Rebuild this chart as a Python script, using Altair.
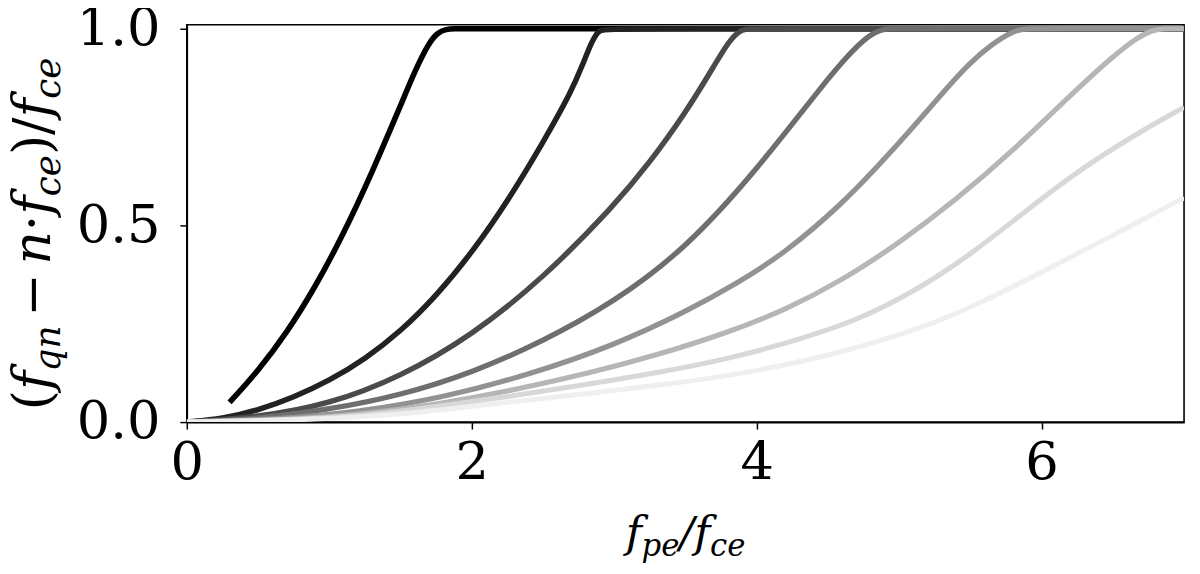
import altair as alt
import pandas as pd

# ---- data (x = f_pe/f_ce, y = (f_qn - n f_ce)/f_ce) ----
names = ["n1", "n2", "n3", "n4", "n5", "n6", "n7", "n8"]
colors = ["#000000", "#222222", "#4a4a4a", "#6e6e6e", "#929292", "#b6b6b6", "#d8d8d8", "#efefef"]
widths = [5.6, 5, 5, 5, 5, 5, 5, 5]

x1 = [0.30, 0.50, 0.70, 0.90, 1.10, 1.30, 1.50, 1.60, 1.70, 1.76, 1.82, 1.88, 1.95, 7.0]
y1 = [0.05, 0.13, 0.226, 0.342, 0.478, 0.634, 0.804, 0.892, 0.965, 0.99, 0.999, 1.0, 1.0, 1.0]

x2 = [0.0, 0.25, 0.5, 0.75, 1.0, 1.25, 1.5, 1.75, 2.0, 2.25, 2.5, 2.7, 2.78, 2.84, 2.89, 2.96, 7.0]
y2 = [0.0, 0.008, 0.03, 0.063, 0.105, 0.16, 0.23, 0.32, 0.43, 0.56, 0.71, 0.84, 0.91, 0.965, 0.998, 1.0, 1.0]

x3 = [0.0, 0.5, 1.0, 1.5, 2.0, 2.5, 3.0, 3.25, 3.5, 3.7, 3.8, 3.87, 3.93, 4.0, 7.0]
y3 = [0.0, 0.012, 0.045, 0.115, 0.22, 0.365, 0.55, 0.66, 0.785, 0.905, 0.965, 0.993, 1.0, 1.0, 1.0]

x4 = [0.0, 0.5, 1.0, 1.5, 2.0, 2.5, 3.0, 3.5, 4.0, 4.5, 4.7, 4.8, 4.87, 4.93, 5.0, 7.0]
y4 = [0.0, 0.008, 0.032, 0.068, 0.125, 0.205, 0.305, 0.44, 0.64, 0.875, 0.955, 0.985, 0.997, 1.0, 1.0, 1.0]

x5 = [0.0, 0.6, 1.2, 1.8, 2.4, 3.0, 3.5, 3.85, 4.2, 4.6, 4.85, 5.1, 5.3, 5.5, 5.65, 5.78, 5.85, 5.92, 6.0, 7.0]
y5 = [0.0, 0.006, 0.025, 0.062, 0.12, 0.195, 0.28, 0.35, 0.43, 0.555, 0.65, 0.75, 0.835, 0.915, 0.96, 0.99, 0.998, 1.0, 1.0, 1.0]

x6 = [0.0, 0.7, 1.3, 1.8, 2.3, 2.8, 3.3, 3.8, 4.2, 4.6, 5.0, 5.4, 5.8, 6.2, 6.5, 6.68, 6.78, 6.85, 6.92, 7.0]
y6 = [0.0, 0.005, 0.022, 0.048, 0.082, 0.122, 0.17, 0.228, 0.285, 0.36, 0.455, 0.565, 0.69, 0.83, 0.93, 0.98, 0.996, 1.0, 1.0, 1.0]

x7 = [0.0, 0.8, 1.4, 1.8, 2.3, 2.8, 3.3, 3.8, 4.3, 4.7, 5.1, 5.5, 5.9, 6.3, 6.7, 7.0]
y7 = [0.0, 0.005, 0.022, 0.042, 0.067, 0.095, 0.125, 0.16, 0.21, 0.258, 0.33, 0.425, 0.54, 0.65, 0.74, 0.80]

x8 = [0.0, 0.9, 1.5, 1.8, 2.3, 2.8, 3.3, 3.8, 4.3, 4.7, 5.1, 5.5, 6.0, 6.5, 7.0]
y8 = [0.0, 0.006, 0.02, 0.032, 0.052, 0.072, 0.093, 0.117, 0.152, 0.188, 0.232, 0.29, 0.38, 0.475, 0.57]

x_ticks = [0, 2, 4, 6]
y_ticks = [0.0, 0.5, 1.0]

series = list(zip(names, [x1, x2, x3, x4, x5, x6, x7, x8], [y1, y2, y3, y4, y5, y6, y7, y8]))
rows = []
for nm, xs, ys in series:
    for a, b in zip(xs, ys):
        rows.append({"s": nm, "x": a, "y": b})
df = pd.DataFrame(rows)

W, H = 1004, 400
FONT = "DejaVu Serif"

lines = alt.Chart(df).mark_line(interpolate="basis", clip=True).encode(
    x=alt.X("x:Q", scale=alt.Scale(domain=[0, 7], nice=False, zero=False),
            axis=alt.Axis(values=x_ticks, format="d", title=None, labelPadding=8, labelFlush=False)),
    y=alt.Y("y:Q", scale=alt.Scale(domain=[0, 1.01], nice=False),
            axis=alt.Axis(values=y_ticks, format=".1f", title=None, labelPadding=20, labelFlush=False)),
    color=alt.Color("s:N", scale=alt.Scale(domain=names, range=colors), legend=None),
    size=alt.Size("s:N", scale=alt.Scale(domain=names, range=widths), legend=None),
    detail="s:N",
)

# ---- math-like axis titles built from text pieces ----
# (text, italic, size, subscript, extra gap after)
WID = {"f": 0.36, "p": 0.64, "e": 0.59, "c": 0.56, "q": 0.64, "n": 0.64, "/": 0.34,
       "(": 0.39, ")": 0.39, "−": 0.84, "·": 0.32}
XB, XS = 44, 31
YB, YS = 52, 36
x_title = [("f", True, XB, False, 0), ("pe", True, XS, True, 0), ("/", True, XB, False, 0),
           ("f", True, XB, False, 0), ("ce", True, XS, True, 0)]
y_title = [("(", False, YB, False, 0), ("f", True, YB, False, 0), ("qn", True, YS, True, 9),
           ("−", False, YB, False, 9), ("n", True, YB, False, 0), ("·", False, YB, False, 0),
           ("f", True, YB, False, 0), ("ce", True, YS, True, 0), (")", False, YB, False, 0),
           ("/", False, YB, False, 0), ("f", True, YB, False, 0), ("ce", True, YS, True, 0)]

dummy = pd.DataFrame({"a": [0]})
layers = [lines]

pos = 442
for t, it, fs, sub, gap in x_title:
    layers.append(alt.Chart(dummy).mark_text(
        font=FONT, fontStyle="italic" if it else "normal", fontSize=fs, align="left",
        baseline="alphabetic", color="black").encode(
        x=alt.value(pos), y=alt.value(526 + (9 if sub else 0)), text=alt.value(t)))
    pos += sum(WID.get(ch, 0.6) for ch in t) * fs + gap

pos = 388
for t, it, fs, sub, gap in y_title:
    layers.append(alt.Chart(dummy).mark_text(
        font=FONT, fontStyle="italic" if it else "normal", fontSize=fs, align="left",
        baseline="alphabetic", angle=270, color="black").encode(
        x=alt.value(-138 + (10 if sub else 0)), y=alt.value(pos), text=alt.value(t)))
    pos -= sum(WID.get(ch, 0.6) for ch in t) * fs + gap

chart = alt.layer(*layers).properties(
    width=W, height=H,
    autosize=alt.AutoSizeParams(type="none"),
    padding={"left": 180, "top": 15, "right": 8, "bottom": 143},
).configure_view(stroke="black", strokeWidth=1.6).configure_axis(
    labelFont=FONT, labelFontSize=53, labelColor="black",
    tickColor="black", tickSize=7, tickWidth=1.5,
    domainColor="black", domainWidth=1.6, grid=False,
)

chart.save("out.html", embed_options={"renderer": "svg", "actions": False})
